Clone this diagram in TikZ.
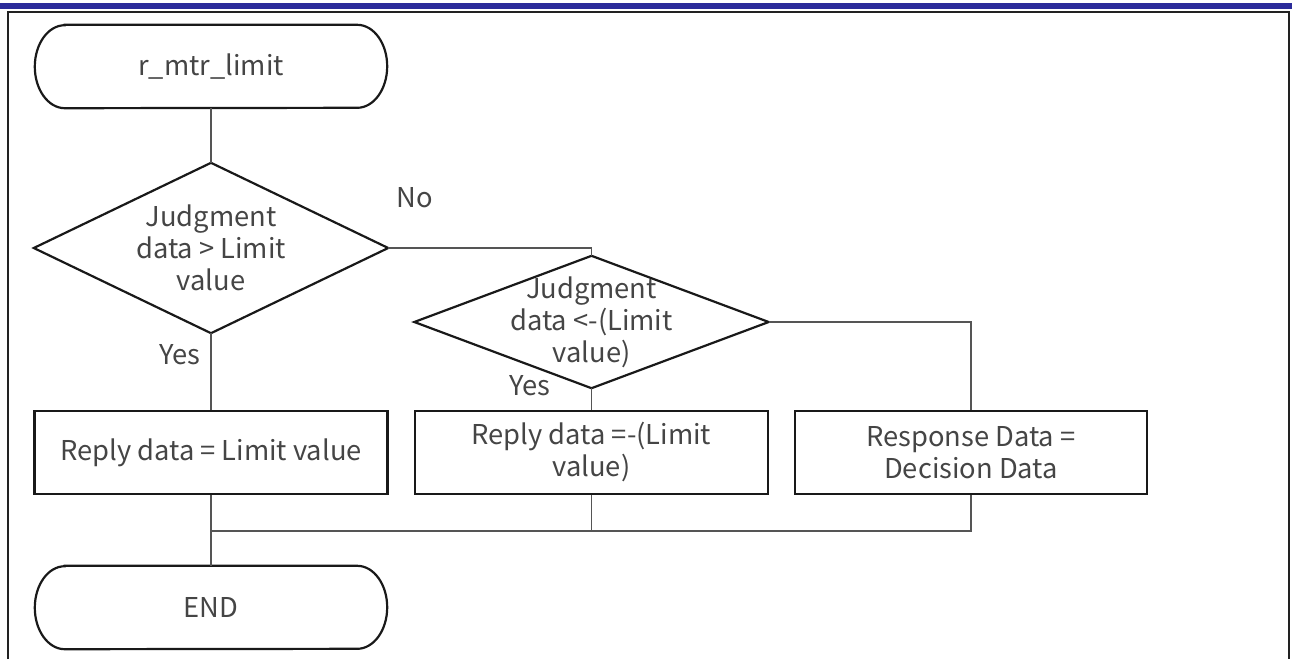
\documentclass[tikz,border=0pt]{standalone}
\usepackage{fontspec}
\setmainfont{Noto Sans CJK JP}
\definecolor{barblue}{HTML}{2B2B9A}
\definecolor{txtgray}{HTML}{454545}
\definecolor{conngray}{HTML}{555555}
\definecolor{framegray}{HTML}{222222}
\begin{document}
\begin{tikzpicture}[x=1pt,y=-1pt,
  shapeline/.style={line width=2.2pt, draw=black!90},
  conn/.style={line width=1.3pt, draw=conngray},
  txt/.style={font=\fontsize{27.3}{32}\selectfont, text=txtgray, align=center},
  box/.style={txt, shapeline, rectangle, minimum width=353pt, minimum height=83pt, inner sep=0pt},
  term/.style={txt, rectangle, minimum width=352pt, minimum height=83pt, inner sep=0pt},
  dia/.style={txt, rectangle, minimum width=354pt, inner sep=0pt},
  lbl/.style={txt}
]
\useasboundingbox (0,0) rectangle (1292,659);
\fill[barblue] (0,3) rectangle (1292,9);
\draw[line width=2.5pt, draw=framegray] (8,659) -- (8,12) -- (1289,12) -- (1289,659);

% terminators
\node[term] (start) at (211,66.5) {r\_mtr\_limit};
\node[term] (end) at (211,607.5) {END};
\foreach \n in {start,end}{
  \draw[shapeline] ([xshift=30pt]\n.north west) -- ([xshift=-30pt]\n.north east)
    arc[start angle=90, end angle=-90, x radius=30pt, y radius=41.5pt]
    -- ([xshift=30pt]\n.south west)
    arc[start angle=270, end angle=90, x radius=30pt, y radius=41.5pt] -- cycle;
}

% decisions
\node[dia, minimum height=170pt] (d1) at (211,248) {Judgment\\data > Limit\\value};
\node[dia, minimum height=132pt] (d2) at (591.5,322) {Judgment\\data <-(Limit\\value)};
\foreach \n in {d1,d2}{
  \draw[shapeline] (\n.north) -- (\n.east) -- (\n.south) -- (\n.west) -- cycle;
}

% process boxes
\node[box] (b1) at (211,452.5) {Reply data = Limit value};
\node[box] (b2) at (591.5,452.5) {Reply data =-(Limit\\value)};
\node[box, minimum width=352pt] (b3) at (971,452.5) {Response Data =\\Decision Data};

% connectors
\coordinate (j) at (211,531);
\draw[conn] (start.south) -- (d1.north);
\draw[conn] (d1.east) -| (d2.north);
\draw[conn] (d2.east) -| (b3.north);
\draw[conn] (d1.south) -- (b1.north);
\draw[conn] (d2.south) -- (b2.north);
\draw[conn] (b1.south) -- (end.north);
\draw[conn] (b3.south) |- (j);
\draw[conn] (b2.south) -- (b2.south |- j);

% labels
\node[lbl] (no) at (415,198) {No};
\node[lbl] (yes1) at (180,355) {Yes};
\node[lbl] (yes2) at (530,386) {Yes};
\end{tikzpicture}
\end{document}
